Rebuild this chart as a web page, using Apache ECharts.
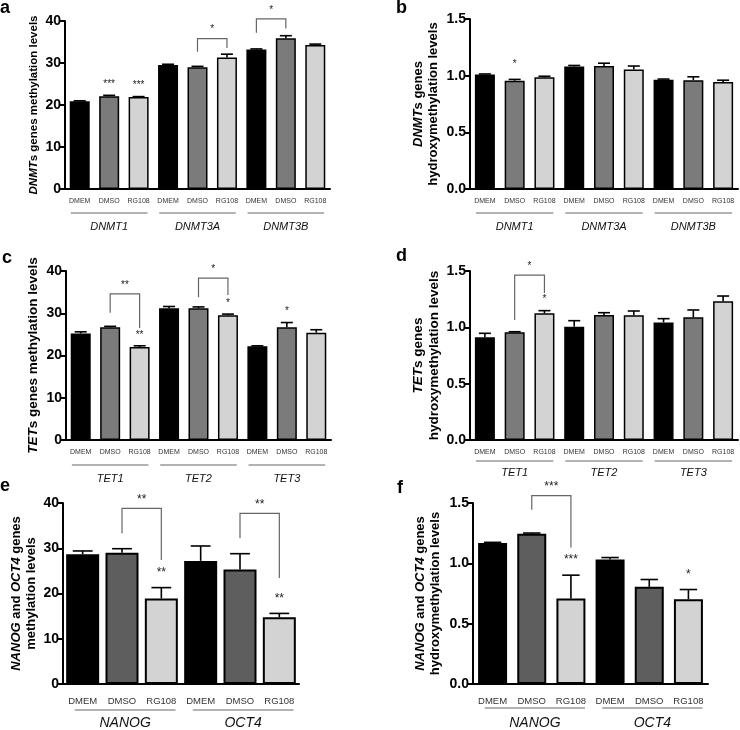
<!DOCTYPE html>
<html><head><meta charset="utf-8">
<script src="https://cdn.jsdelivr.net/npm/echarts@6/dist/echarts.min.js"></script>
<style>html,body{margin:0;padding:0;background:#fff}#c{width:740px;height:730px}</style>
</head><body><div id="c"></div>
<script>
// ---------- data ----------
const treatments = ['DMEM', 'DMSO', 'RG108'];
const dnmtGenes = ['DNMT1', 'DNMT3A', 'DNMT3B'];
const tetGenes = ['TET1', 'TET2', 'TET3'];
const pluriGenes = ['NANOG', 'OCT4'];

// a: DNMTs methylation
const aMeans = [20.9, 22.1, 21.9, 29.5, 29.0, 31.3, 33.2, 35.9, 34.3];
const aErr   = [0.1, 0.2, 0.1, 0.2, 0.2, 0.8, 0.15, 0.6, 0.2];
// b: DNMTs hydroxymethylation
const bMeans = [1.01, 0.955, 0.985, 1.08, 1.085, 1.055, 0.965, 0.96, 0.945];
const bErr   = [0.005, 0.012, 0.01, 0.01, 0.025, 0.03, 0.005, 0.03, 0.015];
// c: TETs methylation
const cMeans = [25.2, 26.7, 22.0, 31.2, 31.2, 29.5, 22.2, 26.7, 25.4];
const cErr   = [0.4, 0.2, 0.3, 0.4, 0.3, 0.3, 0.1, 1.1, 0.7];
// d: TETs hydroxymethylation
const dMeans = [0.911, 0.956, 1.124, 1.006, 1.109, 1.107, 1.044, 1.089, 1.231];
const dErr   = [0.036, 0.005, 0.024, 0.053, 0.021, 0.038, 0.033, 0.065, 0.047];
// e: NANOG / OCT4 methylation
const eMeans = [28.7, 29.0, 18.9, 27.2, 25.3, 14.75];
const eErr   = [0.7, 0.9, 2.4, 3.3, 3.5, 0.85];
// f: NANOG / OCT4 hydroxymethylation
const fMeans = [1.169, 1.246, 0.709, 1.031, 0.805, 0.703];
const fErr   = [0.005, 0.005, 0.193, 0.017, 0.061, 0.08];

// significance brackets: [fromBar, toBar, topValue, leftLegEnd, rightLegEnd]
const aBrackets = [[4, 5, 35.8, 32.7, 33.6], [6, 7, 40.5, 37.2, 38.2]];
const aBracketLabels = ['*', '*'];
const cBrackets = [[1, 2, 34.6, 30.1, 26.5], [4, 5, 38.3, 33.8, 34.3]];
const cBracketLabels = ['**', '*'];
const dBrackets = [[1, 2, 1.464, 1.065, 1.305]];
const dBracketLabels = ['*'];
const eBrackets = [[1, 2, 38.8, 33.3, 27.4], [4, 5, 37.7, 32.2, 23.4]];
const eBracketLabels = ['**', '**'];
const fBrackets = [[1, 2, 1.561, 1.445, 1.131]];
const fBracketLabels = ['***'];

// significance marks above single bars: [bar, label]
const aMarks = [[1, '***'], [2, '***']];
const bMarks = [[1, '*']];
const cMarks = [[2, '**'], [5, '*'], [7, '*']];
const dMarks = [[2, '*']];
const eMarks = [[2, '**'], [5, '**']];
const fMarks = [[2, '***'], [5, '*']];

const barColors = ['#000000', '#7b7b7b', '#d3d3d3'];
const barColorsEF = ['#000000', '#5e5e5e', '#d3d3d3'];

const FONT = '"Liberation Sans", Arial, sans-serif';

// ---------- builders ----------
const option = {
  animation: false,
  backgroundColor: '#fff',
  title: [], grid: [], xAxis: [], yAxis: [], series: []
};

function addPanel(p) {
  const gi = option.grid.length;
  option.grid.push({left: p.left, top: p.top, width: p.width, height: p.height, containLabel: false});
  const cats = [];
  p.genes.forEach(g => treatments.forEach(t => cats.push(g + '|' + t)));
  option.xAxis.push({
    type: 'category', gridIndex: gi, data: cats,
    axisLine: {lineStyle: {color: '#000', width: 2}},
    axisTick: {alignWithLabel: true, length: 4, lineStyle: {color: '#000', width: 1.5}},
    axisLabel: {formatter: v => v.split('|')[1], fontSize: p.tickFont, color: '#333',
                fontFamily: FONT, margin: p.tickMargin, interval: 0}
  });
  option.yAxis.push({
    type: 'value', gridIndex: gi, min: 0, max: p.max, interval: p.interval,
    axisLine: {show: true, lineStyle: {color: '#000', width: 2}},
    axisTick: {show: true, length: 5, lineStyle: {color: '#000', width: 2}},
    splitLine: {show: false},
    axisLabel: {fontSize: 14, fontWeight: 'bold', color: '#000', fontFamily: FONT, margin: 4,
                formatter: v => p.decimals ? v.toFixed(1) : String(v)},
    name: p.yName, nameLocation: 'middle', nameRotate: 90, nameGap: p.nameGap,
    nameTextStyle: {fontSize: p.nameFont, fontWeight: 'bold', color: '#000', fontFamily: FONT,
                    lineHeight: p.nameFont * 1.15,
                    rich: {i: {fontStyle: 'italic', fontWeight: 'bold', fontSize: p.nameFont, fontFamily: FONT, color: '#000', lineHeight: p.nameFont * 1.15},
                           n: {fontWeight: 'bold', fontSize: p.nameFont, fontFamily: FONT, color: '#000', lineHeight: p.nameFont * 1.15}}}
  });
  const cols = p.colors;
  // bars
  option.series.push({
    type: 'bar', xAxisIndex: gi, yAxisIndex: gi, barWidth: p.barWidth,
    data: p.means.map((m, i) => ({value: m, itemStyle: {color: cols[i % 3]}})),
    itemStyle: {borderColor: '#000', borderWidth: p.border},
    z: 2
  });
  // error bars (upper only)
  option.series.push({
    type: 'custom', xAxisIndex: gi, yAxisIndex: gi, clip: false, z: 3,
    encode: {x: 0, y: 1},
    data: p.means.map((m, i) => [i, m, p.err[i]]),
    renderItem: (params, api) => {
      const i = api.value(0), m = api.value(1), e = api.value(2);
      const a = api.coord([i, m]), b = api.coord([i, m + e]);
      const cw = p.barWidth * 0.6;
      return {type: 'group', children: [
        {type: 'line', shape: {x1: a[0], y1: a[1], x2: b[0], y2: b[1]}, style: {stroke: '#000', lineWidth: 1.6}},
        {type: 'line', shape: {x1: b[0] - cw / 2, y1: b[1], x2: b[0] + cw / 2, y2: b[1]}, style: {stroke: '#000', lineWidth: 1.6}}
      ]};
    }
  });
  // brackets
  if (p.brackets.length) option.series.push({
    type: 'custom', xAxisIndex: gi, yAxisIndex: gi, clip: false, z: 4,
    encode: {x: 0, y: 2},
    data: p.brackets,
    renderItem: (params, api) => {
      const f = api.value(0), t = api.value(1), top = api.value(2), lb = api.value(3), rb = api.value(4);
      const p1 = api.coord([f, lb]), p2 = api.coord([f, top]), p3 = api.coord([t, top]), p4 = api.coord([t, rb]);
      return {type: 'group', children: [
        {type: 'polyline', shape: {points: [p1, p2, p3, p4]}, style: {stroke: '#666', lineWidth: 1.2, fill: null}},
        {type: 'text', style: {x: (p2[0] + p3[0]) / 2, y: p2[1] - p.starGap, text: p.bracketLabels[params.dataIndex],
          fontSize: p.starFont, fontFamily: FONT, fill: '#222', align: 'center', verticalAlign: 'bottom'}}
      ]};
    }
  });
  // marks above bars
  if (p.marks.length) option.series.push({
    type: 'custom', xAxisIndex: gi, yAxisIndex: gi, clip: false, z: 4,
    encode: {x: 0, y: 1},
    data: p.marks.map(mk => [mk[0], p.means[mk[0]] + p.err[mk[0]]]),
    renderItem: (params, api) => {
      const c = api.coord([api.value(0), api.value(1)]);
      return {type: 'text', style: {x: c[0], y: c[1] - p.markGap, text: p.marks[params.dataIndex][1],
        fontSize: p.starFont, fontFamily: FONT, fill: '#222', align: 'center', verticalAlign: 'bottom'}};
    }
  });
  // gene group lines + names below the axis
  option.series.push({
    type: 'custom', xAxisIndex: gi, yAxisIndex: gi, clip: false, z: 4,
    encode: {x: 0, y: 2},
    data: p.genes.map((g, k) => [k * 3, k * 3 + 2, 0]),
    renderItem: (params, api) => {
      const s = api.value(0), e = api.value(1);
      const w = api.size([1, 0])[0];
      const a = api.coord([s, 0]), b = api.coord([e, 0]);
      const x1 = a[0] - w * p.lineL, x2 = b[0] + w * p.lineR;
      const yl = a[1] + p.lineOff, yt = a[1] + p.nameOff;
      return {type: 'group', children: [
        {type: 'line', shape: {x1: x1, y1: yl, x2: x2, y2: yl}, style: {stroke: '#666', lineWidth: 1}},
        {type: 'text', style: {x: (x1 + x2) / 2, y: yt, text: p.genes[params.dataIndex], fontSize: p.geneFont,
          fontStyle: 'italic', fontFamily: FONT, fill: '#111', align: 'center', verticalAlign: 'middle'}}
      ]};
    }
  });
}

const common9 = {tickFont: 7, tickMargin: 9, barWidth: 20, border: 1.5, starFont: 10, geneFont: 11,
                 lineL: 0.3, lineR: 0.3, colors: barColors};

addPanel(Object.assign({}, common9, {
  left: 65, top: 21, width: 265, height: 168, max: 40, interval: 10, decimals: false,
  genes: dnmtGenes, means: aMeans, err: aErr, brackets: aBrackets, bracketLabels: aBracketLabels, marks: aMarks,
  yName: '{i|DNMT}{n|s genes methylation levels}', nameFont: 11.5, nameGap: 25,
  starGap: 4, markGap: 6, lineOff: 24, nameOff: 38
}));
addPanel(Object.assign({}, common9, {
  left: 470, top: 19, width: 268, height: 170, max: 1.5, interval: 0.5, decimals: true,
  genes: dnmtGenes, means: bMeans, err: bErr, brackets: [], bracketLabels: [], marks: bMarks,
  yName: '{i|DNMT}{n|s genes}\n{n|hydroxymethylation levels}', nameFont: 13, nameGap: 29,
  starGap: 4, markGap: 10, lineOff: 24, nameOff: 38
}));
addPanel(Object.assign({}, common9, {
  left: 66, top: 271, width: 265, height: 169, max: 40, interval: 10, decimals: false,
  genes: tetGenes, means: cMeans, err: cErr, brackets: cBrackets, bracketLabels: cBracketLabels, marks: cMarks,
  yName: '{i|TET}{n|s genes methylation levels}', nameFont: 13.5, nameGap: 25,
  starGap: 4, markGap: 6, lineOff: 25, nameOff: 39
}));
addPanel(Object.assign({}, common9, {
  left: 470, top: 271, width: 268, height: 169, max: 1.5, interval: 0.5, decimals: true,
  genes: tetGenes, means: dMeans, err: dErr, brackets: dBrackets, bracketLabels: dBracketLabels, marks: dMarks,
  yName: '{i|TET}{n|s genes}\n{n|hydroxymethylation levels}', nameFont: 13.5, nameGap: 28,
  starGap: 4, markGap: 6, lineOff: 21, nameOff: 33
}));
const common6 = {tickFont: 9.5, tickMargin: 12, border: 2, starFont: 12, geneFont: 14,
                 lineL: 0.2, lineR: 0.36, colors: barColorsEF};
addPanel(Object.assign({}, common6, {
  left: 63, top: 503, width: 236, height: 181, max: 40, interval: 10, decimals: false, barWidth: 33,
  genes: pluriGenes, means: eMeans, err: eErr, brackets: eBrackets, bracketLabels: eBracketLabels, marks: eMarks,
  yName: '{i|NANOG}{n| and }{i|OCT4}{n| genes}\n{n|methylation levels}', nameFont: 13, nameGap: 24,
  starGap: 3, markGap: 9, lineOff: 26, nameOff: 39
}));
addPanel(Object.assign({}, common6, {
  left: 473, top: 503, width: 235, height: 181, max: 1.5, interval: 0.5, decimals: true, barWidth: 29,
  genes: pluriGenes, means: fMeans, err: fErr, brackets: fBrackets, bracketLabels: fBracketLabels, marks: fMarks,
  yName: '{i|NANOG}{n| and }{i|OCT4}{n| genes}\n{n|hydroxymethylation levels}', nameFont: 13, nameGap: 30,
  starGap: 3, markGap: 9, lineOff: 24, nameOff: 39
}));

// panel letters
[['a', 0, -1], ['b', 396, -1], ['c', 2, 249], ['d', 396, 247], ['e', 0, 477], ['f', 397, 479]].forEach(t => {
  option.title.push({text: t[0], left: t[1], top: t[2], padding: 0,
    textStyle: {fontSize: 18, fontWeight: 'bold', color: '#000', fontFamily: FONT}});
});

const chart = echarts.init(document.getElementById('c'), null, {renderer: 'canvas'});
chart.setOption(option);
</script>
</body></html>
